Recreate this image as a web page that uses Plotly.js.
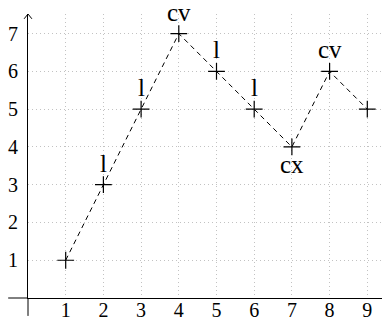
<!DOCTYPE html>
<html>
<head>
<meta charset="utf-8">
<script src="https://cdn.plot.ly/plotly-3.0.1.min.js"></script>
<style>html,body{margin:0;padding:0;background:#fff;}#chart{width:382px;height:323px;}</style>
</head>
<body>
<div id="chart"></div>
<script>
// Data
const xValues = [1, 2, 3, 4, 5, 6, 7, 8, 9];
const yValues = [1, 3, 5, 7, 6, 5, 4, 6, 5];
const pointLabels = ['', 'l', 'l', 'cv', 'l', 'l', 'cx', 'cv', ''];
const labelSide = ['', 'above', 'above', 'above', 'above', 'above', 'below', 'above', ''];
const xTicks = [1, 2, 3, 4, 5, 6, 7, 8, 9];
const yTicks = [1, 2, 3, 4, 5, 6, 7];

const serif = 'Liberation Serif';

const trace = {
  x: xValues,
  y: yValues,
  type: 'scatter',
  mode: 'lines+markers',
  line: {color: '#000', width: 1, dash: '5px,4px'},
  marker: {symbol: 'cross-thin', size: 12, color: '#000', line: {color: '#000', width: 1.2}},
  cliponaxis: false,
  hoverinfo: 'none'
};

const annotations = [];
pointLabels.forEach((t, i) => {
  if (!t) return;
  const above = labelSide[i] === 'above';
  annotations.push({
    x: xValues[i], y: yValues[i], xref: 'x', yref: 'y',
    text: t, showarrow: false,
    font: {family: serif, size: 25, color: '#000'},
    yanchor: above ? 'bottom' : 'top',
    yshift: above ? 6 : -2
  });
});

const shapes = [
  {type: 'line', xref: 'paper', yref: 'paper', x0: -0.056, x1: 0, y0: 0, y1: 0, line: {color: '#000', width: 1}},
  {type: 'line', xref: 'paper', yref: 'paper', x0: 0, x1: 0, y0: -0.063, y1: 0, line: {color: '#000', width: 1}},
  {type: 'path', xref: 'paper', yref: 'paper', path: 'M -0.011,0.983 L 0,1.0 L 0.011,0.983', line: {color: '#000', width: 1}}
];

const axisCommon = {
  showline: true, linecolor: '#000', linewidth: 1,
  showgrid: true, gridcolor: '#c2c2c2', gridwidth: 1, griddash: '1px,3px',
  zeroline: false, ticks: '', tickmode: 'array',
  tickfont: {family: serif, size: 20, color: '#000'},
  fixedrange: true
};

const layout = {
  width: 382, height: 323,
  margin: {l: 28, r: 0, t: 14, b: 25, pad: 0},
  paper_bgcolor: '#fff', plot_bgcolor: '#fff',
  showlegend: false,
  xaxis: Object.assign({}, axisCommon, {range: [0, 9.39], tickvals: xTicks, ticktext: xTicks.map(String), ticklabelstandoff: -6}),
  yaxis: Object.assign({}, axisCommon, {range: [0, 7.52], tickvals: yTicks, ticktext: yTicks.map(String), ticklabelstandoff: 5}),
  annotations: annotations,
  shapes: shapes
};

Plotly.newPlot('chart', [trace], layout, {displayModeBar: false, staticPlot: true});
</script>
</body>
</html>
